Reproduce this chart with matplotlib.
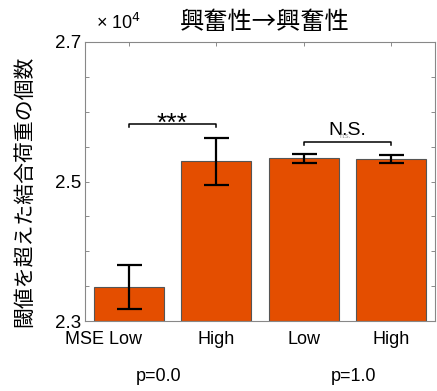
import matplotlib.pyplot as plt
import matplotlib.transforms as mtransforms
import numpy as np

plt.rcParams['font.family'] = ['Liberation Sans', 'Noto Sans CJK JP']

# 閾値を超えた結合荷重の個数 (×10^4)
conditions = ["MSE Low", "High", "Low", "High"]
groups = ["p=0.0", "p=1.0"]
counts = [23490, 25290, 25330, 25320]
errors = [320, 340, 60, 60]

bar_color = (228 / 255, 78 / 255, 0 / 255)
scale = 1e4

fig = plt.figure(figsize=(4.37, 3.91), dpi=100)
ax = fig.add_axes([0.1945, 0.179, 0.801, 0.7136])

x = np.arange(1, len(counts) + 1)
vals = np.array(counts) / scale
errs = np.array(errors) / scale

ax.bar(x, vals - 2.3, bottom=2.3, width=0.8, color=bar_color, edgecolor='#555555', linewidth=0.8, zorder=2)
ax.errorbar(x, vals, yerr=errs, fmt='none', ecolor='black', elinewidth=1.6, capsize=9, capthick=1.6, zorder=3)

ax.set_xlim(0.5, 4.5)
ax.set_ylim(2.3, 2.7)

yt = np.round(np.arange(2.3, 2.7001, 0.05), 2)
ax.set_yticks(yt)
ax.set_yticklabels([f'{v:.1f}' if v in (2.3, 2.5, 2.7) else '' for v in yt], fontsize=13.5)
ax.set_xticks(x)
ax.set_xticklabels(conditions, fontsize=13)
ax.tick_params(direction='in', top=True, right=True, length=3, width=0.6, color='#777777', labelcolor='black')
ax.tick_params(axis='x', pad=7)
ax.tick_params(axis='y', pad=3)
for s in ax.spines.values():
    s.set_color('#888888')
    s.set_linewidth(0.8)

# "MSE Low" の "Low" を目盛り位置に揃える
first = ax.get_xticklabels()[0]
first.set_transform(first.get_transform() + mtransforms.ScaledTranslation(-0.25, 0, fig.dpi_scale_trans))

# 有意差の表示
def bracket(x1, x2, y, h=0.004):
    ax.plot([x1, x1, x2, x2], [y - h, y, y, y - h], color='black', linewidth=1.1, zorder=4)

bracket(1, 2, 2.582)
ax.text(1.5, 2.566, "***", ha='center', va='bottom', fontsize=19)
bracket(3, 4, 2.557)
ax.text(3.5, 2.561, "N.S.", ha='center', va='bottom', fontsize=14)
ax.text(3.47, 2.559, "n.s.", ha='center', va='bottom', fontsize=5, color='#999999')

# グループ名
fig.text(159 / 437, 0.036, groups[0], ha='center', va='center', fontsize=13)
fig.text(354 / 437, 0.036, groups[1], ha='center', va='center', fontsize=13)

fig.text(118 / 437, 1 - 23 / 391, r"× 10$^4$", ha='center', va='center', fontsize=13)
fig.text(265 / 437, 1 - 22 / 391, "興奮性→興奮性", ha='center', va='center', fontsize=17.5,
         family=['Noto Sans CJK JP', 'DejaVu Sans'])
fig.text(24 / 437, 1 - 191 / 391, "閾値を超えた結合荷重の個数", rotation=90, ha='center', va='center', fontsize=15,
         family=['Noto Sans CJK JP', 'DejaVu Sans'])

plt.savefig('out.png', dpi=100)
